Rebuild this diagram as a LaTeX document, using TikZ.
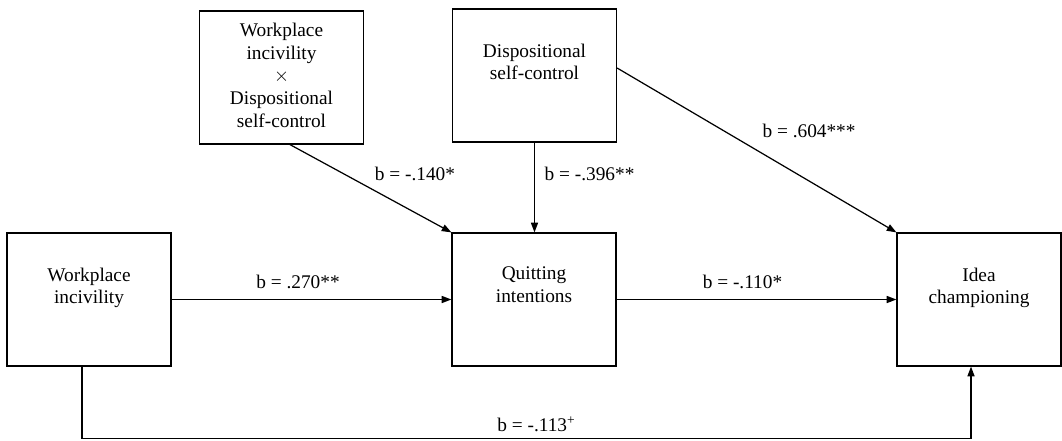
\documentclass[tikz,border=0pt]{standalone}
\usepackage{fontspec}
\setmainfont{Liberation Serif}
\usetikzlibrary{arrows.meta}

\begin{document}
\begin{tikzpicture}
    [x=0.02cm, y=-0.02cm,
    font=\fontsize{11}{13}\selectfont,
    box/.style={draw,line width=0.7pt,minimum width=3.28cm,minimum height=2.66cm,inner sep=0pt},
    boxtext/.style={anchor=north,align=center,inner sep=0pt},
    link/.style={-{Triangle[length=5.5pt,width=4pt]},line width=0.7pt},
    lbl/.style={inner sep=0.12cm}]

\useasboundingbox (0,0) rectangle (1062,440);

%draw boxes
\node[box] (wi) at (89,299.5) {};
\node[box] (qi) at (534,299.5) {};
\node[box] (ic) at (979,299.5) {};
\node[box] (int) at (281.5,77.5) {};
\node[box] (dsc) at (534.5,75.5) {};

%box texts
\node[boxtext] (wi text) at ([yshift=-0.70cm]wi.north) {Workplace\\incivility};
\node[boxtext] (qi text) at ([yshift=-0.68cm]qi.north) {Quitting\\intentions};
\node[boxtext] (ic text) at ([yshift=-0.70cm]ic.north) {Idea\\championing};
\node[boxtext] (int text) at ([yshift=-0.24cm]int.north) {Workplace\\incivility\\$\times$\\Dispositional\\self-control};
\node[boxtext] (dsc text) at ([yshift=-0.70cm]dsc.north) {Dispositional\\self-control};

%draw paths
\draw[link] (wi.east) -- node[lbl,above,xshift=-0.27cm,yshift=0.08cm] {b = .270**} (qi.west);
\draw[link] (qi.east) -- node[lbl,above,xshift=-0.28cm,yshift=0.08cm] {b = -.110*} (ic.west);
\draw[link] ([xshift=0.17cm]int.south) -- node[lbl,pos=0.485,anchor=south west] {b = -.140*} (qi.north west);
\draw[link] (dsc.south) -- node[lbl,pos=0.35,anchor=west,xshift=0.07cm] {b = -.396**} (dsc.south |- qi.north);
\draw[link] ([yshift=0.15cm]dsc.east) -- node[lbl,pos=0.497,anchor=south west,yshift=0.1cm] {b = .604***} (ic.north west);
\draw[link] ([xshift=-0.14cm]wi.south) -- ++(0,72) coordinate (bend)
    -| node[lbl,pos=0.25,above,xshift=0.2cm] {b = -.113\textsuperscript{+}} ([xshift=-0.16cm]ic.south);

\end{tikzpicture}
\end{document}
